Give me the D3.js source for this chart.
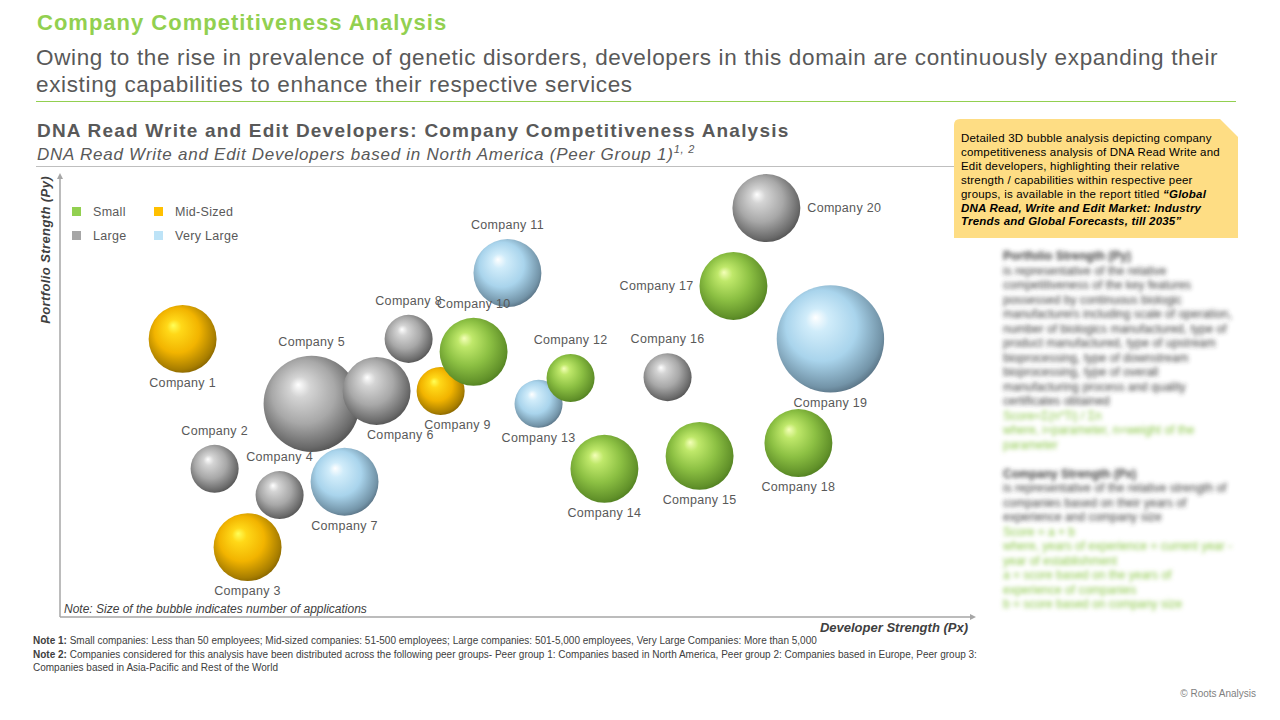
<!DOCTYPE html>
<html>
<head>
<meta charset="utf-8">
<script src="https://cdn.jsdelivr.net/npm/d3@7"></script>
<style>
  body { margin: 0; background: #fff; }
  svg { display: block; font-family: "Liberation Sans", Arial, sans-serif; }
</style>
</head>
<body>
<script>
// chart data
const companies = ['Company 1','Company 2','Company 3','Company 4','Company 5','Company 6','Company 7',
  'Company 8','Company 9','Company 10','Company 11','Company 12','Company 13','Company 14',
  'Company 15','Company 16','Company 17','Company 18','Company 19','Company 20'];
const devStrength = [1.34, 1.69, 2.05, 2.40, 2.75, 3.46, 3.11, 3.81, 4.16, 4.52,
  4.89, 5.58, 5.23, 5.95, 6.99, 6.64, 7.36, 8.07, 8.42, 7.72];
const portStrength = [6.25, 3.33, 1.57, 2.74, 4.79, 5.08, 3.04, 6.25, 5.08, 5.96,
  7.73, 5.37, 4.79, 3.33, 3.62, 5.39, 7.44, 3.91, 6.25, 9.19];
const companySize = ['Mid-Sized','Large','Mid-Sized','Large','Large','Large','Very Large',
  'Large','Mid-Sized','Small','Very Large','Small','Very Large','Small',
  'Small','Large','Small','Small','Very Large','Large'];
const applications = [2, 1, 2, 1, 4, 2, 2, 1, 1, 2, 2, 1, 1, 2, 2, 1, 2, 2, 5, 2];
const labelSide = ['bottom','top','bottom','top','top','bottom-right','bottom','top','bottom-right','top',
  'top','top','bottom','bottom','bottom','top','left','bottom','bottom','right'];

const sizeCategories = ['Small', 'Mid-Sized', 'Large', 'Very Large'];
const legendColors = ['#92d050', '#ffc000', '#a6a6a6', '#bde3f7'];

const sideNotes = [
  ['Portfolio Strength (Py)', 'head'],
  ['is representative of the relative', 'body'],
  ['competitiveness of the key features', 'body'],
  ['possessed by continuous biologic', 'body'],
  ['manufacturers including scale of operation,', 'body'],
  ['number of biologics manufactured, type of', 'body'],
  ['product manufactured, type of upstream', 'body'],
  ['bioprocessing, type of downstream', 'body'],
  ['bioprocessing, type of overall', 'body'],
  ['manufacturing process and quality', 'body'],
  ['certificates obtained', 'body'],
  ['Score=\u03a3(n*Ti) / \u03a3n', 'green'],
  ['where, i=parameter, n=weight of the', 'green'],
  ['parameter', 'green'],
  ['', 'body'],
  ['Company Strength (Px)', 'head'],
  ['is representative of the relative strength of', 'body'],
  ['companies based on their years of', 'body'],
  ['experience and company size', 'body'],
  ['Score = a + b', 'green'],
  ['where, years of experience = current year -', 'green'],
  ['year of establishment', 'green'],
  ['a = score based on the years of', 'green'],
  ['experience of companies', 'green'],
  ['b = score based on company size', 'green']
];

// sphere shading per size class
const shades = {
  'Small':      ['#f4ffb8', '#bfe86a', '#8cc043', '#62922a', '#4c7a1e'],
  'Mid-Sized':  ['#ffff58', '#ffd818', '#f2b400', '#a87e00', '#7e5e00'],
  'Large':      ['#ffffff', '#d4d4d4', '#a8a8a8', '#6a6a6a', '#4c4c4c'],
  'Very Large': ['#ffffff', '#d0ecfa', '#a9d4ec', '#7394a8', '#52697a']
};

const width = 1280, height = 720;
const svg = d3.select('body').append('svg').attr('width', width).attr('height', height);
const defs = svg.append('defs');

sizeCategories.forEach((c, i) => {
  let g = defs.append('radialGradient').attr('id', 'sph' + i)
    .attr('cx', 0.46).attr('cy', 0.44).attr('r', 0.6)
    .attr('fx', 0.36).attr('fy', 0.3);
  [0, 0.18, 0.55, 0.88, 1].forEach((o, k) => {
    g.append('stop').attr('offset', o).attr('stop-color', shades[c][k]);
  });
});

defs.append('filter').attr('id', 'blur')
  .append('feGaussianBlur').attr('stdDeviation', 1.9);

defs.append('marker').attr('id', 'arrow')
  .attr('viewBox', '0 0 10 10').attr('refX', 5).attr('refY', 5)
  .attr('markerWidth', 4).attr('markerHeight', 4).attr('orient', 'auto')
  .append('path').attr('d', 'M0,0 L10,5 L0,10 Z').attr('fill', '#a6a6a6');

// header
svg.append('text').attr('x', 37).attr('y', 30)
  .style('font-size', '22px').style('letter-spacing', '1px').style('font-weight', 'bold').style('fill', '#92d050')
  .text('Company Competitiveness Analysis');
svg.append('text').attr('x', 36).attr('y', 65)
  .style('font-size', '22.5px').style('letter-spacing', '0.65px').style('fill', '#595959')
  .text('Owing to the rise in prevalence of genetic disorders, developers in this domain are continuously expanding their');
svg.append('text').attr('x', 36).attr('y', 92)
  .style('font-size', '22.5px').style('letter-spacing', '0.65px').style('fill', '#595959')
  .text('existing capabilities to enhance their respective services');
svg.append('line').attr('x1', 36).attr('x2', 1236).attr('y1', 101.5).attr('y2', 101.5)
  .style('stroke', '#92d050').style('stroke-width', 1);

// chart titles
svg.append('text').attr('x', 37).attr('y', 137)
  .style('font-size', '19px').style('letter-spacing', '1.2px').style('font-weight', 'bold').style('fill', '#595959')
  .text('DNA Read Write and Edit Developers: Company Competitiveness Analysis');
let sub = svg.append('text').attr('x', 37).attr('y', 160)
  .style('font-size', '17px').style('letter-spacing', '0.75px').style('font-style', 'italic').style('fill', '#595959');
sub.append('tspan').text('DNA Read Write and Edit Developers based in North America (Peer Group 1)');
sub.append('tspan').attr('dy', -7).style('font-size', '11px').text('1, 2');
svg.append('line').attr('x1', 36).attr('x2', 955).attr('y1', 166.5).attr('y2', 166.5)
  .style('stroke', '#bfbfbf').style('stroke-width', 1);

// scales
const x = d3.scaleLinear([0, 10], [60, 975]);
const y = d3.scaleLinear([0, 10], [617, 172]);
const r = d3.scaleSqrt([0, 5], [0, 53.7]);

// axes (arrow lines, no ticks)
svg.append('line').attr('x1', x(0)).attr('x2', x(0)).attr('y1', y(0)).attr('y2', y(10) + 4)
  .style('stroke', '#a6a6a6').style('stroke-width', 1.5).attr('marker-end', 'url(#arrow)');
svg.append('line').attr('x1', x(0)).attr('x2', x(10) - 2).attr('y1', y(0)).attr('y2', y(0))
  .style('stroke', '#a6a6a6').style('stroke-width', 1.5).attr('marker-end', 'url(#arrow)');

svg.append('text').attr('transform', `translate(50,${y(10) + 4}) rotate(-90)`)
  .attr('text-anchor', 'end')
  .style('font-size', '13px').style('letter-spacing', '0.4px').style('font-weight', 'bold').style('font-style', 'italic')
  .style('fill', '#404040').text('Portfolio Strength (Py)');
svg.append('text').attr('x', 968).attr('y', 632).attr('text-anchor', 'end')
  .style('font-size', '13px').style('font-weight', 'bold').style('font-style', 'italic')
  .style('fill', '#404040').text('Developer Strength (Px)');
svg.append('text').attr('x', 64).attr('y', 613)
  .style('font-size', '12px').style('font-style', 'italic').style('fill', '#404040')
  .text('Note: Size of the bubble indicates number of applications');

// legend
const legendOrder = [0, 1, 2, 3];
let legend = svg.append('g').selectAll('g').data(legendOrder).join('g')
  .attr('transform', i => `translate(${72 + (i % 2) * 82},${207 + Math.floor(i / 2) * 24})`);
legend.append('rect').attr('width', 9).attr('height', 9).style('fill', i => legendColors[i]);
legend.append('text').attr('x', 21).attr('y', 9)
  .style('font-size', '12.5px').style('letter-spacing', '0.3px').style('fill', '#595959').text(i => sizeCategories[i]);

// bubbles
let rows = companies.map((name, i) => ({
  name, px: devStrength[i], py: portStrength[i], size: companySize[i],
  apps: applications[i], side: labelSide[i]
}));
rows = d3.sort(rows, d => d.px);

let chart = svg.append('g');
chart.selectAll('circle').data(rows).join('circle')
  .attr('cx', d => x(d.px)).attr('cy', d => y(d.py)).attr('r', d => r(d.apps))
  .style('fill', d => `url(#sph${sizeCategories.indexOf(d.size)})`);

function labelX(d) {
  let cx = x(d.px), rr = r(d.apps);
  if (d.side === 'left') return cx - rr - 6;
  if (d.side === 'right') return cx + rr + 7;
  if (d.side === 'bottom-right') return cx + rr * 0.7;
  return cx;
}
function labelY(d) {
  let cy = y(d.py), rr = r(d.apps);
  if (d.side === 'top') return cy - rr - 10;
  if (d.side.startsWith('bottom')) return cy + rr + 14;
  return cy + 4;
}
chart.selectAll('text').data(rows).join('text')
  .attr('x', labelX).attr('y', labelY)
  .attr('text-anchor', d => d.side === 'left' ? 'end' : d.side === 'right' ? 'start' : 'middle')
  .style('font-size', '12.5px').style('letter-spacing', '0.3px').style('fill', '#595959')
  .text(d => d.name);

// report callout
svg.append('path').attr('d', 'M954,125 Q954,119 960,119 H1220 L1238,137 V238 H954 Z')
  .style('fill', '#fedd84');
const calloutPlain = ['Detailed 3D bubble analysis depicting company',
  'competitiveness analysis of DNA Read Write and',
  'Edit developers, highlighting their relative',
  'strength / capabilities within respective peer',
  'groups, is available in the report titled '];
const calloutBold = ['\u201cGlobal', 'DNA Read, Write and Edit Market: Industry',
  'Trends and Global Forecasts, till 2035\u201d'];
let call = svg.append('text').style('font-size', '11.5px').style('letter-spacing', '0.2px').style('fill', '#000');
calloutPlain.forEach((t, i) => call.append('tspan').attr('x', 961).attr('y', 142 + i * 13.9).text(t));
call.append('tspan').style('font-weight', 'bold').style('font-style', 'italic').text(calloutBold[0]);
calloutBold.slice(1).forEach((t, i) => call.append('tspan').attr('x', 961).attr('y', 142 + (i + 5) * 13.9)
  .style('font-weight', 'bold').style('font-style', 'italic').text(t));

// blurred side notes
svg.append('g').attr('filter', 'url(#blur)').selectAll('text').data(sideNotes).join('text')
  .attr('x', 1003).attr('y', (d, i) => 260 + i * 14.5)
  .style('font-size', '12px')
  .style('font-weight', d => d[1] === 'head' ? 'bold' : 'normal')
  .style('fill', d => d[1] === 'green' ? '#8cc84a' : '#3a3a3a')
  .text(d => d[0]);

// footnotes
const notes = [
  ['Note 1:', ' Small companies: Less than 50 employees; Mid-sized companies: 51-500 employees; Large companies: 501-5,000 employees, Very Large Companies: More than 5,000'],
  ['Note 2:', ' Companies considered for this analysis have been distributed across the following peer groups- Peer group 1: Companies based in North America, Peer group 2: Companies based in Europe, Peer group 3:'],
  ['', 'Companies based in Asia-Pacific and Rest of the World']
];
notes.forEach((n, i) => {
  let t = svg.append('text').attr('x', 33).attr('y', 644 + i * 13.5)
    .style('font-size', '10px').style('fill', '#404040');
  t.append('tspan').style('font-weight', 'bold').text(n[0]);
  t.append('tspan').text(n[1]);
});
svg.append('text').attr('x', 1256).attr('y', 697).attr('text-anchor', 'end')
  .style('font-size', '10px').style('fill', '#7f7f7f').text('\u00a9 Roots Analysis');
</script>
</body>
</html>
